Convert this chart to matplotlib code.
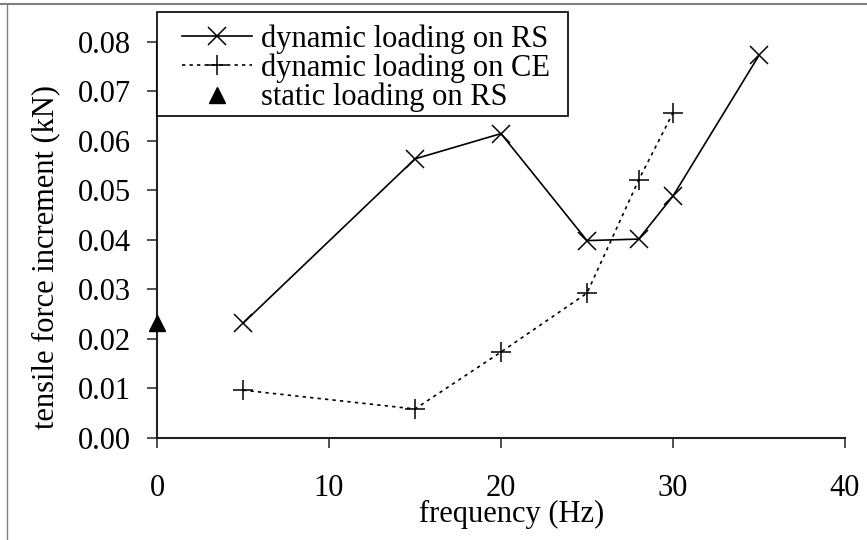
import matplotlib
matplotlib.use("Agg")
import matplotlib.pyplot as plt
from matplotlib.lines import Line2D
from matplotlib.patches import Rectangle

# ---- data ----
freq_rs = [5, 15, 20, 25, 28, 30, 35]
force_rs = [0.0231, 0.0563, 0.0614, 0.0398, 0.0401, 0.0488, 0.0772]
freq_ce = [5, 15, 20, 25, 28, 30]
force_ce = [0.0096, 0.0058, 0.0173, 0.0292, 0.0520, 0.0656]
freq_static = [0]
force_static = [0.0231]
xticks = [0, 10, 20, 30, 40]
yticks = [0.00, 0.01, 0.02, 0.03, 0.04, 0.05, 0.06, 0.07, 0.08]
labels = ["dynamic loading on RS", "dynamic loading on CE", "static loading on RS"]

plt.rcParams['font.family'] = ['Liberation Serif', 'DejaVu Serif']

W, H = 867, 540
fig = plt.figure(figsize=(W / 100, H / 100), dpi=100)
ax = fig.add_axes([157 / W, 1 - 437.7 / H, (845 - 157) / W, (437.7 - 41.5) / H])

ax.plot(freq_rs, force_rs, color='black', lw=1.2, marker='x', ms=13, mew=1.1,
        label=labels[0])
ax.plot(freq_ce, force_ce, color='black', lw=1.2, ls=(0, (2, 2.5)), marker='+', ms=14,
        mew=1.1, label=labels[1])
ax.plot(freq_static, force_static, ls='none', marker='^', ms=12, color='black',
        clip_on=False, zorder=5, label=labels[2])

ax.set_xlim(0, 40)
ax.set_ylim(0, 0.08)
ax.set_xticks(xticks)
ax.set_xticklabels([str(t) for t in xticks])
ax.set_yticks(yticks)
ax.set_yticklabels([f"{t:.2f}" for t in yticks])

for s in ['top', 'right']:
    ax.spines[s].set_visible(False)
for s in ['left', 'bottom']:
    ax.spines[s].set_linewidth(1.5)
    ax.spines[s].set_color('#222222')

ax.tick_params(axis='x', direction='out', length=7, width=1.1, pad=19, labelsize=22,
               color='#222222')
ax.tick_params(axis='y', direction='out', length=7, width=1.1, pad=12, labelsize=22,
               color='#222222')

ax.set_xlabel("frequency (Hz)", fontsize=22, labelpad=-2, x=0.515)
ax.set_ylabel("tensile force increment (kN)", fontsize=22)
ax.yaxis.set_label_coords(-0.140, 0.455)

# legend frame drawn as a patch, legend content placed inside it
fig.patches.append(Rectangle((157 / W, 1 - 116 / H), (568 - 157) / W, (116 - 12) / H,
                             transform=fig.transFigure, fill=True, facecolor='white',
                             edgecolor='black', lw=1.2, zorder=10))
leg = fig.legend(loc='upper left', bbox_to_anchor=(182 / W, 1 - 24 / H),
                 bbox_transform=fig.transFigure, frameon=False, fontsize=22,
                 borderpad=0, borderaxespad=0, handlelength=2.3, handletextpad=0.3,
                 labelspacing=0.0)
leg.set_zorder(11)

# outer border (top and left)
fig.add_artist(Line2D([0, 1], [1 - 4 / H, 1 - 4 / H], transform=fig.transFigure,
                      color='#808080', lw=1.5))
fig.add_artist(Line2D([7 / W, 7 / W], [0, 1 - 4 / H], transform=fig.transFigure,
                      color='#808080', lw=1.0))

fig.savefig("out.png", dpi=100)
